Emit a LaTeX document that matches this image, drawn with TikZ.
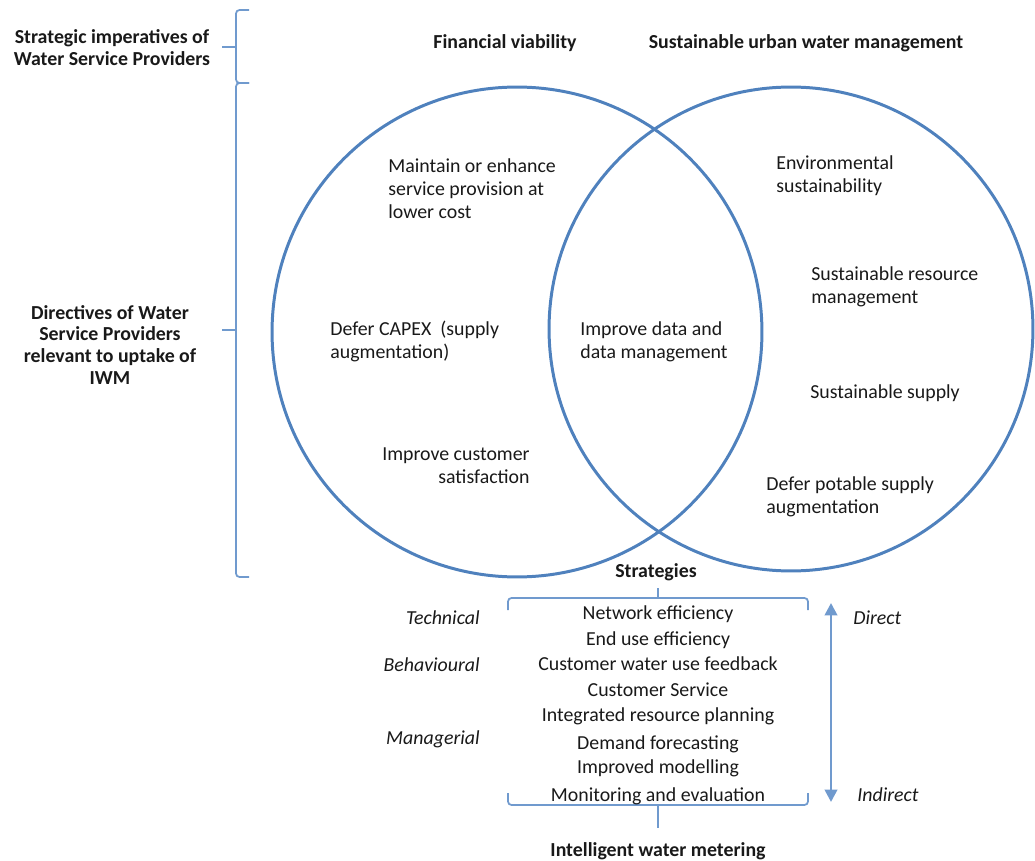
\documentclass[tikz,border=0pt]{standalone}
\usepackage{fontspec}
\setmainfont{Carlito}
\usetikzlibrary{positioning,arrows.meta}
\definecolor{vennblue}{RGB}{79,129,189}
\definecolor{braceblue}{RGB}{112,154,206}
\tikzset{
  txt/.style={inner sep=0pt, text=black!90, font=\fontsize{11.3}{13}\selectfont},
  hd/.style={txt, font=\fontsize{11.3}{12.5}\selectfont\bfseries},
  it/.style={txt, font=\fontsize{11.3}{13}\selectfont\itshape},
  ring/.style={draw=vennblue, line width=1.7pt},
  brk/.style={draw=braceblue, line width=1pt, rounded corners=2pt},
}

\begin{document}
\begin{tikzpicture}[x=0.02cm, y=-0.02cm]
    \useasboundingbox (0,0) rectangle (1035,861);
    \draw[ring] (517,332) circle[radius=4.9cm];
    \draw[ring] (791,329) circle[radius=4.84cm];
    \draw[brk] (249,10)--(236,10)--(236,83)--(249,83);
    \draw[brk] (236,47)--(222,47);
    \draw[brk] (249,83)--(236,83)--(236,577)--(249,577);
    \draw[brk] (236,330)--(222,330);
    \draw[brk] (508,610)--(508,598)--(808,598)--(808,610);
    \draw[brk] (658,598)--(658,588);
    \draw[brk] (508,793)--(508,805)--(808,805)--(808,793);
    \draw[brk] (658,805)--(658,828);
    \node[hd, align=center] (imp) at (112,47.5) {Strategic imperatives of\\Water Service Providers};
    \node[hd, align=center] (dir) at (110,345) {Directives of Water\\Service Providers\\relevant to uptake of\\IWM};
    \node[hd] (fin) at (505,43) {Financial viability};
    \node[hd] (suwm) at (806,43) {Sustainable urban water management};
    \node[txt, anchor=west, align=left] (cost) at (388,189) {Maintain or enhance\\service provision at\\lower cost};
    \node[txt, anchor=west, align=left] (capex) at (330,341.5) {Defer CAPEX\ \ (supply\\augmentation)};
    \node[txt, anchor=east, align=right] (cust) at (530,465.5) {Improve customer\\satisfaction};
    \node[txt, anchor=west, align=left] (data) at (580,341.5) {Improve data and\\data management};
    \node[txt, anchor=west, align=left] (env) at (776,175.5) {Environmental\\sustainability};
    \node[txt, anchor=west, align=left] (res) at (811,286.5) {Sustainable resource\\management};
    \node[txt, anchor=west] (sup) at (810,393) {Sustainable supply};
    \node[txt, anchor=west, align=left] (pot) at (766,497) {Defer potable supply\\augmentation};
    \node[hd] (strat) at (656,572) {Strategies};
    \foreach \y/\t [count=\i] in {614/Network efficiency, 640/End use efficiency,
        664/Customer water use feedback, 690/Customer Service,
        716/Integrated resource planning, 744/Demand forecasting,
        768/Improved modelling, 796/Monitoring and evaluation}
        \node[txt] (s\i) at (658,\y) {\t};
    \node[hd] (iwm) at (658,851) {Intelligent water metering};
    \node[it, anchor=east] (tech) at (480,618) {Technical};
    \node[it, anchor=east] (beh) at (480,665) {Behavioural};
    \node[it, anchor=east] (man) at (480,739) {Managerial};
    \node[it, anchor=west] (dct) at (853,618) {Direct};
    \node[it, anchor=west] (ind) at (857,795) {Indirect};
    \coordinate (atop) at (831,603);
    \coordinate (abot) at (831,802);
    \draw[braceblue, line width=1.5pt, {Triangle[width=7pt,length=7pt]}-{Triangle[width=7pt,length=7pt]}] (atop) -- (abot);
\end{tikzpicture}
\end{document}
